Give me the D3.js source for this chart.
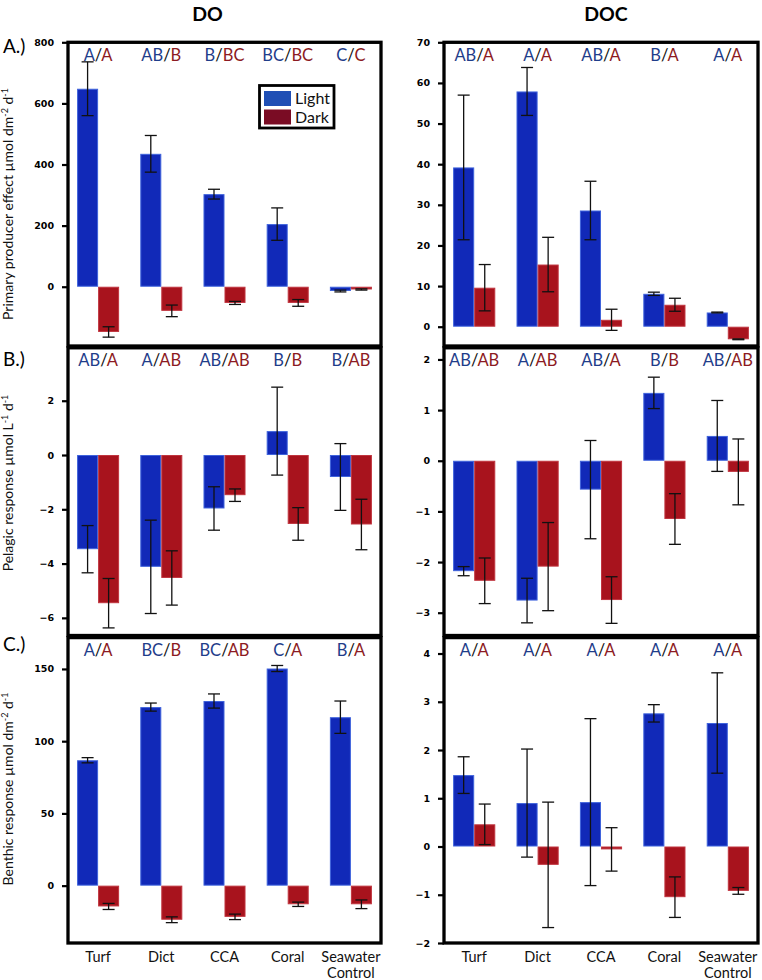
<!DOCTYPE html>
<html>
<head>
<meta charset="utf-8">
<script src="https://cdn.jsdelivr.net/npm/d3@7"></script>
<style>
  html, body { margin: 0; padding: 0; background: #fff; }
  svg { display: block; }
</style>
</head>
<body>
<svg id="chart" width="762" height="980"></svg>
<script>
// ---------- DATA ----------
const categories = ["Turf", "Dict", "CCA", "Coral", "Seawater Control"];
const seriesNames = ["Light", "Dark"];
const columnTitles = ["DO", "DOC"];
const rowLabels = ["A.)", "B.)", "C.)"];
const rowTitles = [
  ["Primary producer effect µmol dm", "-2", " d", "-1"],
  ["Pelagic response µmol L", "-1", " d", "-1"],
  ["Benthic response µmol dm", "-2", " d", "-1"]
];

// Row A: primary producer effect
const doPrimaryLight     = [648, 435, 303, 205, -14];
const doPrimaryLightErr  = [88, 60, 16, 53, 3];
const doPrimaryDark      = [-148, -79, -53, -53, -9];
const doPrimaryDarkErr   = [17, 19, 5, 11, 2];
const docPrimaryLight    = [39.2, 57.9, 28.6, 8.1, 3.5];
const docPrimaryLightErr = [17.8, 5.9, 7.2, 0.4, 0.1];
const docPrimaryDark     = [9.6, 15.3, 1.7, 5.4, -3.1];
const docPrimaryDarkErr  = [5.7, 6.7, 2.6, 1.6, 0.1];

// Row B: pelagic response
const doPelagicLight     = [-3.47, -4.12, -1.97, 0.88, -0.81];
const doPelagicLightErr  = [0.87, 1.72, 0.8, 1.62, 1.23];
const doPelagicDark      = [-5.46, -4.53, -1.48, -2.54, -2.56];
const doPelagicDarkErr   = [0.91, 1.0, 0.23, 0.6, 0.93];
const docPelagicLight    = [-2.18, -2.76, -0.57, 1.34, 0.49];
const docPelagicLightErr = [0.09, 0.44, 0.97, 0.31, 0.7];
const docPelagicDark     = [-2.37, -2.09, -2.75, -1.15, -0.22];
const docPelagicDarkErr  = [0.45, 0.87, 0.46, 0.5, 0.65];

// Row C: benthic response
const doBenthicLight     = [86.8, 123.6, 127.8, 150.3, 116.6];
const doBenthicLightErr  = [1.8, 2.8, 4.9, 2.1, 11.2];
const doBenthicDark      = [-14.4, -23.6, -21.6, -12.9, -12.9];
const doBenthicDarkErr   = [2.1, 2.0, 1.9, 1.5, 3.0];
const docBenthicLight    = [1.48, 0.9, 0.92, 2.76, 2.56];
const docBenthicLightErr = [0.38, 1.12, 1.73, 0.18, 1.04];
const docBenthicDark     = [0.46, -0.38, -0.06, -1.05, -0.92];
const docBenthicDarkErr  = [0.42, 1.3, 0.45, 0.42, 0.07];

// Significance letters
const doPrimaryLettersLight  = ["A", "AB", "B", "BC", "C"];
const doPrimaryLettersDark   = ["A", "B", "BC", "BC", "C"];
const docPrimaryLettersLight = ["AB", "A", "AB", "B", "A"];
const docPrimaryLettersDark  = ["A", "A", "A", "A", "A"];
const doPelagicLettersLight  = ["AB", "A", "AB", "B", "B"];
const doPelagicLettersDark   = ["A", "AB", "AB", "B", "AB"];
const docPelagicLettersLight = ["AB", "A", "AB", "B", "AB"];
const docPelagicLettersDark  = ["AB", "AB", "A", "B", "AB"];
const doBenthicLettersLight  = ["A", "BC", "BC", "C", "B"];
const doBenthicLettersDark   = ["A", "B", "AB", "A", "A"];
const docBenthicLettersLight = ["A", "A", "A", "A", "A"];
const docBenthicLettersDark  = ["A", "A", "A", "A", "A"];

// Tick values
const doPrimaryTicks  = [0, 200, 400, 600, 800];
const docPrimaryTicks = [0, 10, 20, 30, 40, 50, 60, 70];
const doPelagicTicks  = [-6, -4, -2, 0, 2];
const docPelagicTicks = [-3, -2, -1, 0, 1, 2];
const doBenthicTicks  = [0, 50, 100, 150];
const docBenthicTicks = [-2, -1, 0, 1, 2, 3, 4];

// Axis domains
const doPrimaryDomain  = [-194, 800];
const docPrimaryDomain = [-4.75, 70];
const doPelagicDomain  = [-6.65, 3.95];
const docPelagicDomain = [-3.45, 2.23];
const doBenthicDomain  = [-39.7, 171.7];
const docBenthicDomain = [-2, 4.33];

// ---------- STYLE / LAYOUT ----------
const colors = { Light: "#1129b8", Dark: "#a8131d" };
const edgeColors = { Light: "#3f63dc", Dark: "#c0353f" };
const letterColors = { Light: "#1f3d8a", Dark: "#8c1a22" };
const legendColors = { Light: "#1f4fb5", Dark: "#7a0c24" };

const cols = [ { x0: 68, x1: 381 }, { x0: 444, x1: 758 } ];
const rows = [ { y0: 42.3, y1: 346 }, { y0: 347.8, y1: 635.5 }, { y0: 637.6, y1: 943 } ];

const panels = [
  { r: 0, c: 0, light: doPrimaryLight, lightErr: doPrimaryLightErr, dark: doPrimaryDark, darkErr: doPrimaryDarkErr,
    lettersL: doPrimaryLettersLight, lettersD: doPrimaryLettersDark, ticks: doPrimaryTicks, domain: doPrimaryDomain },
  { r: 0, c: 1, light: docPrimaryLight, lightErr: docPrimaryLightErr, dark: docPrimaryDark, darkErr: docPrimaryDarkErr,
    lettersL: docPrimaryLettersLight, lettersD: docPrimaryLettersDark, ticks: docPrimaryTicks, domain: docPrimaryDomain },
  { r: 1, c: 0, light: doPelagicLight, lightErr: doPelagicLightErr, dark: doPelagicDark, darkErr: doPelagicDarkErr,
    lettersL: doPelagicLettersLight, lettersD: doPelagicLettersDark, ticks: doPelagicTicks, domain: doPelagicDomain },
  { r: 1, c: 1, light: docPelagicLight, lightErr: docPelagicLightErr, dark: docPelagicDark, darkErr: docPelagicDarkErr,
    lettersL: docPelagicLettersLight, lettersD: docPelagicLettersDark, ticks: docPelagicTicks, domain: docPelagicDomain },
  { r: 2, c: 0, light: doBenthicLight, lightErr: doBenthicLightErr, dark: doBenthicDark, darkErr: doBenthicDarkErr,
    lettersL: doBenthicLettersLight, lettersD: doBenthicLettersDark, ticks: doBenthicTicks, domain: doBenthicDomain },
  { r: 2, c: 1, light: docBenthicLight, lightErr: docBenthicLightErr, dark: docBenthicDark, darkErr: docBenthicDarkErr,
    lettersL: docBenthicLettersLight, lettersD: docBenthicLettersDark, ticks: docBenthicTicks, domain: docBenthicDomain }
];

const svg = d3.select("#chart");
const FONT = "Lato, 'Open Sans', sans-serif";
const TICKFONT = "'DejaVu Sans', Verdana, sans-serif";

// Column titles
const titleX = [207.5, 606];
columnTitles.forEach((t, i) => {
  svg.append("text").attr("x", titleX[i]).attr("y", 21)
    .attr("text-anchor", "middle").attr("font-family", FONT)
    .attr("font-weight", "bold").attr("font-size", 19.5).attr("fill", "#000").text(t);
});

panels.forEach(p => {
  const col = cols[p.c], row = rows[p.r];
  const g = svg.append("g");

  const x = d3.scaleBand().domain(categories).range([col.x0 - 1.5, col.x1 + 1.5])
    .paddingInner(0.335).paddingOuter(0.1675);
  const xs = d3.scaleBand().domain(seriesNames).range([0, x.bandwidth()]);
  const y = d3.scaleLinear().domain(p.domain).range([row.y1, row.y0]);

  const data = categories.map((cat, i) => ([
    { cat, s: "Light", v: p.light[i], e: p.lightErr[i] },
    { cat, s: "Dark", v: p.dark[i], e: p.darkErr[i] }
  ])).flat();

  // bars
  g.selectAll("rect.bar").data(data).join("rect")
    .attr("class", "bar")
    .attr("x", d => x(d.cat) + xs(d.s) + 0.5)
    .attr("width", xs.bandwidth() - 1)
    .attr("y", d => Math.min(y(d.v), y(0)) + 0.5)
    .attr("height", d => Math.max(Math.abs(y(d.v) - y(0)) - 1, 1))
    .attr("fill", d => colors[d.s])
    .attr("stroke", d => edgeColors[d.s])
    .attr("stroke-width", 1);

  // error bars
  const capW = 6;
  const eb = g.selectAll("g.err").data(data).join("g").attr("class", "err")
    .attr("stroke", "#111").attr("stroke-width", 1.3);
  eb.append("line")
    .attr("x1", d => x(d.cat) + xs(d.s) + xs.bandwidth() / 2)
    .attr("x2", d => x(d.cat) + xs(d.s) + xs.bandwidth() / 2)
    .attr("y1", d => y(d.v + d.e)).attr("y2", d => y(d.v - d.e));
  [1, -1].forEach(sgn => {
    eb.append("line")
      .attr("x1", d => x(d.cat) + xs(d.s) + xs.bandwidth() / 2 - capW)
      .attr("x2", d => x(d.cat) + xs(d.s) + xs.bandwidth() / 2 + capW)
      .attr("y1", d => y(d.v + sgn * d.e)).attr("y2", d => y(d.v + sgn * d.e));
  });

  // y axis
  const ax = g.append("g").attr("transform", `translate(${col.x0},0)`)
    .call(d3.axisLeft(y).tickValues(p.ticks).tickSize(6).tickPadding(8).tickFormat(d3.format("d")));
  ax.select(".domain").remove();
  ax.selectAll(".tick line").attr("stroke", "#000").attr("stroke-width", 2.2);
  ax.selectAll(".tick text").attr("font-family", TICKFONT).attr("font-weight", "bold")
    .attr("font-size", 9.5).attr("fill", "#000");

  // box
  g.append("rect").attr("x", col.x0).attr("y", row.y0)
    .attr("width", col.x1 - col.x0).attr("height", row.y1 - row.y0)
    .attr("fill", "none").attr("stroke", "#000").attr("stroke-width", 3.3);

  // letters
  const ly = row.y0 + 18.5;
  categories.forEach((cat, i) => {
    const t = g.append("text").attr("x", x(cat) + x.bandwidth() / 2).attr("y", ly)
      .attr("text-anchor", "middle").attr("font-family", FONT).attr("font-size", 16.5);
    t.append("tspan").attr("fill", letterColors.Light).text(p.lettersL[i]);
    t.append("tspan").attr("fill", "#111").text("/");
    t.append("tspan").attr("fill", letterColors.Dark).text(p.lettersD[i]);
  });

  // x labels for bottom row (one text element per line)
  if (p.r === 2) {
    categories.forEach(cat => {
      const parts = cat.split(" ");
      parts.forEach((w, k) => {
        g.append("text").attr("text-anchor", "middle").attr("font-family", FONT)
          .attr("font-size", 14.5).attr("fill", "#111")
          .attr("x", x(cat) + x.bandwidth() / 2).attr("y", 962 + k * 16).text(w);
      });
    });
  }
});

// row labels and y titles
const rowLabelY = [53, 366, 651];
rows.forEach((row, r) => {
  svg.append("text").attr("x", 3).attr("y", rowLabelY[r]).attr("font-family", FONT)
    .attr("font-size", 19).attr("fill", "#000").text(rowLabels[r]);
  const cy = [204, 483, 789][r];
  const t = svg.append("text").attr("transform", `translate(13,${cy}) rotate(-90)`)
    .attr("text-anchor", "middle").attr("font-family", FONT).attr("font-size", 14).attr("fill", "#111");
  const parts = rowTitles[r];
  t.append("tspan").text(parts[0]);
  t.append("tspan").attr("font-size", 9).attr("dy", -5).text(parts[1]);
  t.append("tspan").attr("dy", 5).text(parts[2]);
  t.append("tspan").attr("font-size", 9).attr("dy", -5).text(parts[3]);
});

// legend
const lg = svg.append("g");
lg.append("rect").attr("x", 259.5).attr("y", 85.5).attr("width", 74.5).attr("height", 42.5)
  .attr("fill", "#fff").attr("stroke", "#000").attr("stroke-width", 2.8);
seriesNames.forEach((s, i) => {
  lg.append("rect").attr("x", 264).attr("y", 91 + i * 18.5).attr("width", 27).attr("height", 15)
    .attr("fill", legendColors[s]);
  lg.append("text").attr("x", 295).attr("y", 104 + i * 18.5).attr("font-family", FONT)
    .attr("font-size", 16).attr("fill", "#111").text(s);
});
</script>
</body>
</html>
